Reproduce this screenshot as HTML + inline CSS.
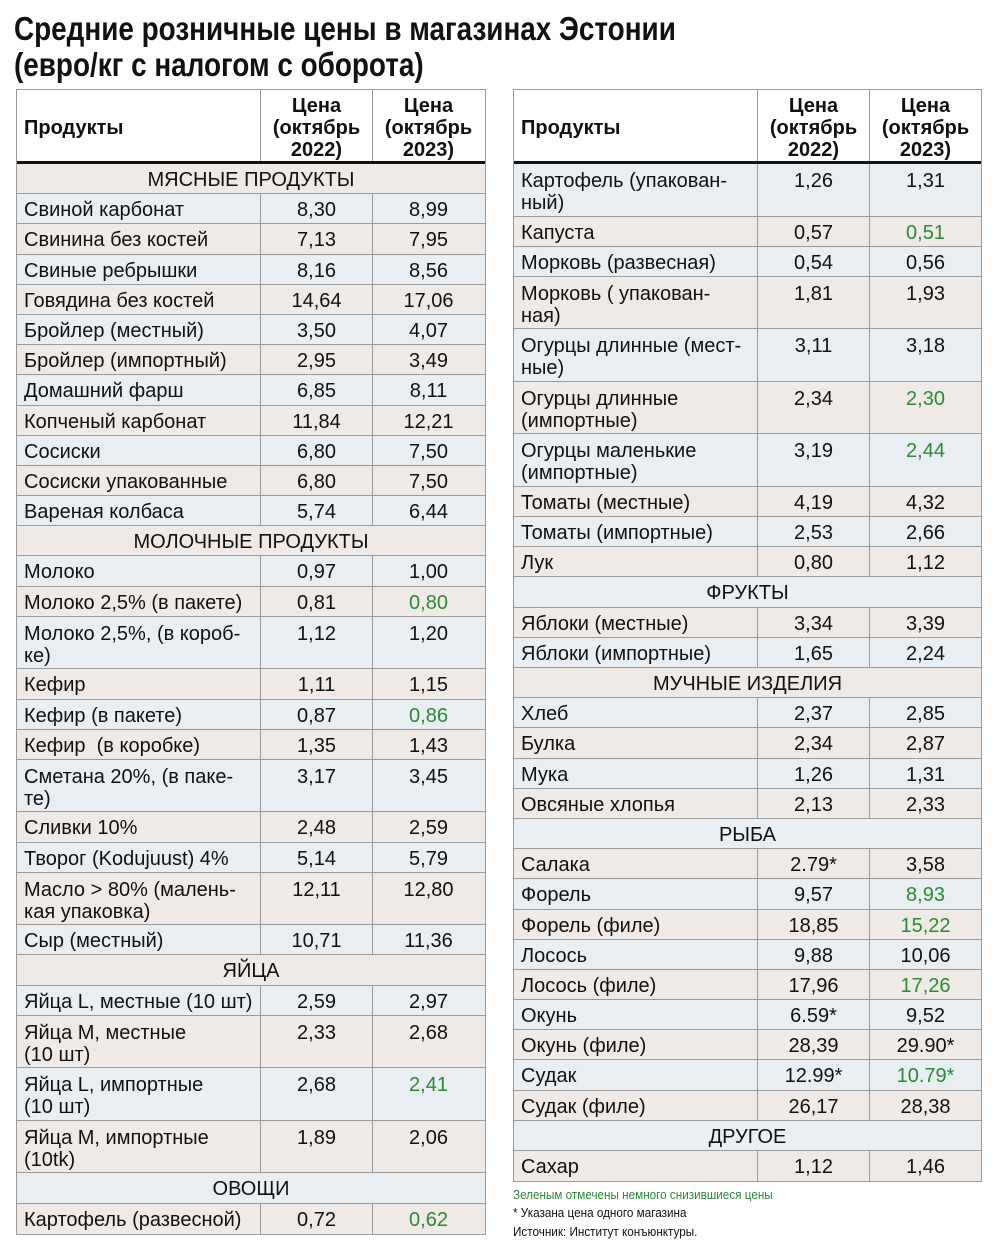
<!DOCTYPE html>
<html><head><meta charset="utf-8"><style>
*{box-sizing:border-box;margin:0;padding:0}
body{width:1000px;height:1252px;background:#fff;font-family:"Liberation Sans","DejaVu Sans",sans-serif;color:#111;position:relative;overflow:hidden}
.t{position:absolute;left:14px;font-weight:bold;font-size:33px;line-height:36px;transform:scaleX(0.845);transform-origin:left top;white-space:nowrap;color:#111}
.tb{position:absolute;top:89px;border:1px solid #9a9a9a;font-size:20px}
.h{height:74px;border-bottom:3px solid #111;display:flex;font-weight:bold;background:#fff}
.h .n{line-height:76px;padding-left:7px}
.h .v{line-height:22px;padding-top:5px;text-align:center}
.r{height:30.2px;border-bottom:1px solid #9a9a9a;display:flex;line-height:32px;white-space:nowrap}
.d{height:52.5px;line-height:22px}
.d>div{padding-top:6px}
.r:last-child{border-bottom:none}
.n{width:243px;padding-left:7px;overflow:hidden}
.v{width:112px;border-left:1px solid #9a9a9a;text-align:center}
.s{justify-content:center}
.B{background:#e9eef2}.E{background:#efeae6}
.g{color:#2a8a35}
.f{position:absolute;left:513px;font-size:13px;transform:scaleX(0.9);transform-origin:left top;white-space:nowrap}
</style></head><body>
<div class="t" style="top:11px">Средние розничные цены в магазинах Эстонии</div>
<div class="t" style="top:47px">(евро/кг с налогом с оборота)</div>

<div class="tb" style="left:16px;width:470px">
<div class="h"><div class="n">Продукты</div><div class="v">Цена<br>(октябрь<br>2022)</div><div class="v">Цена<br>(октябрь<br>2023)</div></div>
<div class="r s E">МЯСНЫЕ ПРОДУКТЫ</div>
<div class="r B"><div class="n">Свиной карбонат</div><div class="v">8,30</div><div class="v">8,99</div></div>
<div class="r E"><div class="n">Свинина без костей</div><div class="v">7,13</div><div class="v">7,95</div></div>
<div class="r B"><div class="n">Свиные ребрышки</div><div class="v">8,16</div><div class="v">8,56</div></div>
<div class="r E"><div class="n">Говядина без костей</div><div class="v">14,64</div><div class="v">17,06</div></div>
<div class="r B"><div class="n">Бройлер (местный)</div><div class="v">3,50</div><div class="v">4,07</div></div>
<div class="r E"><div class="n">Бройлер (импортный)</div><div class="v">2,95</div><div class="v">3,49</div></div>
<div class="r B"><div class="n">Домашний фарш</div><div class="v">6,85</div><div class="v">8,11</div></div>
<div class="r E"><div class="n">Копченый карбонат</div><div class="v">11,84</div><div class="v">12,21</div></div>
<div class="r B"><div class="n">Сосиски</div><div class="v">6,80</div><div class="v">7,50</div></div>
<div class="r E"><div class="n">Сосиски упакованные</div><div class="v">6,80</div><div class="v">7,50</div></div>
<div class="r B"><div class="n">Вареная колбаса</div><div class="v">5,74</div><div class="v">6,44</div></div>
<div class="r s E">МОЛОЧНЫЕ ПРОДУКТЫ</div>
<div class="r B"><div class="n">Молоко</div><div class="v">0,97</div><div class="v">1,00</div></div>
<div class="r E"><div class="n">Молоко 2,5% (в пакете)</div><div class="v">0,81</div><div class="v g">0,80</div></div>
<div class="r d B"><div class="n">Молоко 2,5%, (в короб-<br>ке)</div><div class="v">1,12</div><div class="v">1,20</div></div>
<div class="r E"><div class="n">Кефир</div><div class="v">1,11</div><div class="v">1,15</div></div>
<div class="r B"><div class="n">Кефир (в пакете)</div><div class="v">0,87</div><div class="v g">0,86</div></div>
<div class="r E"><div class="n">Кефир &nbsp;(в коробке)</div><div class="v">1,35</div><div class="v">1,43</div></div>
<div class="r d B"><div class="n">Сметана 20%, (в паке-<br>те)</div><div class="v">3,17</div><div class="v">3,45</div></div>
<div class="r E"><div class="n">Сливки 10%</div><div class="v">2,48</div><div class="v">2,59</div></div>
<div class="r B"><div class="n">Творог (Kodujuust) 4%</div><div class="v">5,14</div><div class="v">5,79</div></div>
<div class="r d E"><div class="n">Масло &gt; 80% (малень-<br>кая упаковка)</div><div class="v">12,11</div><div class="v">12,80</div></div>
<div class="r B"><div class="n">Сыр (местный)</div><div class="v">10,71</div><div class="v">11,36</div></div>
<div class="r s E">ЯЙЦА</div>
<div class="r B"><div class="n">Яйца L, местные (10 шт)</div><div class="v">2,59</div><div class="v">2,97</div></div>
<div class="r d E"><div class="n">Яйца M, местные<br>(10 шт)</div><div class="v">2,33</div><div class="v">2,68</div></div>
<div class="r d B"><div class="n">Яйца L, импортные<br>(10 шт)</div><div class="v">2,68</div><div class="v g">2,41</div></div>
<div class="r d E"><div class="n">Яйца M, импортные<br>(10tk)</div><div class="v">1,89</div><div class="v">2,06</div></div>
<div class="r s B">ОВОЩИ</div>
<div class="r E"><div class="n">Картофель (развесной)</div><div class="v">0,72</div><div class="v g">0,62</div></div>
</div>

<div class="tb" style="left:513px;width:469px">
<div class="h"><div class="n">Продукты</div><div class="v">Цена<br>(октябрь<br>2022)</div><div class="v">Цена<br>(октябрь<br>2023)</div></div>
<div class="r d B"><div class="n">Картофель (упакован-<br>ный)</div><div class="v">1,26</div><div class="v">1,31</div></div>
<div class="r E"><div class="n">Капуста</div><div class="v">0,57</div><div class="v g">0,51</div></div>
<div class="r B"><div class="n">Морковь (развесная)</div><div class="v">0,54</div><div class="v">0,56</div></div>
<div class="r d E"><div class="n">Морковь ( упакован-<br>ная)</div><div class="v">1,81</div><div class="v">1,93</div></div>
<div class="r d B"><div class="n">Огурцы длинные (мест-<br>ные)</div><div class="v">3,11</div><div class="v">3,18</div></div>
<div class="r d E"><div class="n">Огурцы длинные<br>(импортные)</div><div class="v">2,34</div><div class="v g">2,30</div></div>
<div class="r d B"><div class="n">Огурцы маленькие<br>(импортные)</div><div class="v">3,19</div><div class="v g">2,44</div></div>
<div class="r E"><div class="n">Томаты (местные)</div><div class="v">4,19</div><div class="v">4,32</div></div>
<div class="r B"><div class="n">Томаты (импортные)</div><div class="v">2,53</div><div class="v">2,66</div></div>
<div class="r E"><div class="n">Лук</div><div class="v">0,80</div><div class="v">1,12</div></div>
<div class="r s B">ФРУКТЫ</div>
<div class="r E"><div class="n">Яблоки (местные)</div><div class="v">3,34</div><div class="v">3,39</div></div>
<div class="r B"><div class="n">Яблоки (импортные)</div><div class="v">1,65</div><div class="v">2,24</div></div>
<div class="r s E">МУЧНЫЕ ИЗДЕЛИЯ</div>
<div class="r B"><div class="n">Хлеб</div><div class="v">2,37</div><div class="v">2,85</div></div>
<div class="r E"><div class="n">Булка</div><div class="v">2,34</div><div class="v">2,87</div></div>
<div class="r B"><div class="n">Мука</div><div class="v">1,26</div><div class="v">1,31</div></div>
<div class="r E"><div class="n">Овсяные хлопья</div><div class="v">2,13</div><div class="v">2,33</div></div>
<div class="r s B">РЫБА</div>
<div class="r E"><div class="n">Салака</div><div class="v">2.79*</div><div class="v">3,58</div></div>
<div class="r B"><div class="n">Форель</div><div class="v">9,57</div><div class="v g">8,93</div></div>
<div class="r E"><div class="n">Форель (филе)</div><div class="v">18,85</div><div class="v g">15,22</div></div>
<div class="r B"><div class="n">Лосось</div><div class="v">9,88</div><div class="v">10,06</div></div>
<div class="r E"><div class="n">Лосось (филе)</div><div class="v">17,96</div><div class="v g">17,26</div></div>
<div class="r B"><div class="n">Окунь</div><div class="v">6.59*</div><div class="v">9,52</div></div>
<div class="r E"><div class="n">Окунь (филе)</div><div class="v">28,39</div><div class="v">29.90*</div></div>
<div class="r B"><div class="n">Судак</div><div class="v">12.99*</div><div class="v g">10.79*</div></div>
<div class="r E"><div class="n">Судак (филе)</div><div class="v">26,17</div><div class="v">28,38</div></div>
<div class="r s B">ДРУГОЕ</div>
<div class="r E"><div class="n">Сахар</div><div class="v">1,12</div><div class="v">1,46</div></div>
</div>

<div class="f" style="top:1187px;color:#2a8a35">Зеленым отмечены немного снизившиеся цены</div>
<div class="f" style="top:1205px">* Указана цена одного магазина</div>
<div class="f" style="top:1224px">Источник: Институт конъюнктуры.</div>
</body></html>
